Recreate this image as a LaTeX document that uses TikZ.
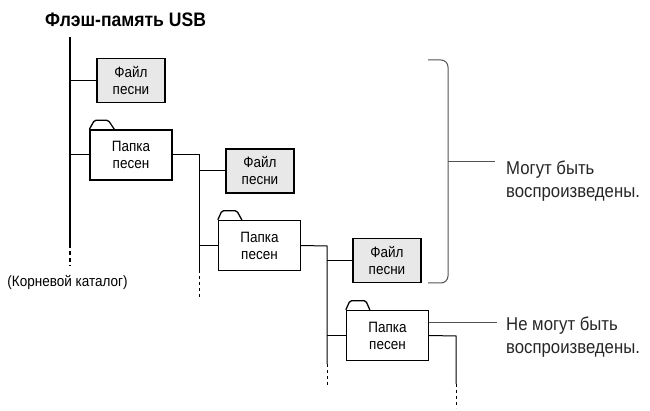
\documentclass[tikz,border=0pt]{standalone}
\usepackage{fontspec}
\setmainfont{Liberation Sans}[FakeStretch=0.9]
\begin{document}
\begin{tikzpicture}[x=1pt,y=-1pt,
  treeline/.style={line width=1pt, black},
  rootline/.style={line width=2.6pt, black},
  dotend/.style={line width=1pt, dash pattern=on 3pt off 3pt},
  rootdots/.style={line width=2.6pt, dash pattern=on 4pt off 3pt},
  filebox/.style={draw, line width=1.3pt, fill=gray!18, minimum width=68pt, minimum height=44pt, inner sep=0pt, align=center, font=\fontsize{15}{17}\selectfont},
  folderbox/.style={draw, line width=1.3pt, fill=white, minimum width=82pt, minimum height=50pt, inner sep=0pt, align=center, font=\fontsize{15}{17}\selectfont},
  foldertab/.style={line width=1.3pt, rounded corners=1.5pt},
  bracket/.style={line width=1pt, gray!65!black, rounded corners=7pt},
  notetext/.style={anchor=west, align=left, text=black!85, font=\fontsize{18.6}{23}\selectfont, inner sep=0pt},
  leader/.style={line width=1pt, gray!65!black}]
\useasboundingbox (0,0) rectangle (650,411);
% title
\node[font=\bfseries\fontsize{19.5}{22}\selectfont, anchor=west, inner sep=0pt] (title) at (45,20) {Флэш-память USB};
% root
\coordinate (roottop) at (70,37);
\coordinate (rootend) at (70,244);
\coordinate (rootdot) at (70,266);
\draw[rootline] (roottop) -- (rootend);
\draw[rootdots] (rootend) -- (rootdot);
\node[font=\fontsize{15}{17}\selectfont, inner sep=0pt] (rootlabel) at (67.5,282) {(Корневой каталог)};
% level 1
\node[filebox] (file1) at (131,80.5) {Файл\\песни};
\node[folderbox] (folder1) at (131,155) {Папка\\песен};
\draw[foldertab] (folder1.north west) -- ++(5,-9) -- ++(14,0) -- ++(6,9);
\draw[treeline] (file1.west) -- (file1.west -| roottop);
\draw[treeline] (folder1.west) -- (folder1.west -| roottop);
% level 2
\coordinate (b1top) at (199,155);
\coordinate (b1end) at (199,270);
\coordinate (b1dot) at (199,297);
\draw[treeline] (folder1.east) -- (b1top) -- (b1end);
\draw[dotend] (b1end) -- (b1dot);
\node[filebox] (file2) at (260,171) {Файл\\песни};
\node[folderbox] (folder2) at (259.5,245.5) {Папка\\песен};
\draw[foldertab] (folder2.north west) -- ++(4,-9) -- ++(15,0) -- ++(5,9);
\draw[treeline] (file2.west) -- (file2.west -| b1top);
\draw[treeline] (folder2.west) -- (folder2.west -| b1top);
% level 3
\coordinate (b2top) at (327,246);
\coordinate (b2end) at (327,364);
\coordinate (b2dot) at (327,388);
\draw[treeline] (folder2.east) -- (b2top) -- (b2end);
\draw[dotend] (b2end) -- (b2dot);
\node[filebox] (file3) at (387,260.5) {Файл\\песни};
\node[folderbox] (folder3) at (387.5,335.5) {Папка\\песен};
\draw[foldertab] (folder3.north west) -- ++(4,-9) -- ++(16,0) -- ++(4,9);
\draw[treeline] (file3.west) -- (file3.west -| b2top);
\draw[treeline] (folder3.west) -- (folder3.west -| b2top);
% level 4
\coordinate (b3top) at (456,336);
\coordinate (b3end) at (456,384);
\coordinate (b3dot) at (456,408);
\draw[treeline] (folder3.east) -- (b3top) -- (b3end);
\draw[dotend] (b3end) -- (b3dot);
% bracket
\coordinate (brtop) at (428,60);
\coordinate (brbot) at (428,283);
\coordinate (brmid) at (448,162);
\coordinate (brtick) at (495,162);
\draw[bracket] (brtop) -- (brtop -| brmid) -- (brbot -| brmid) -- (brbot);
\draw[leader] (brmid) -- (brtick);
\node[notetext] (can) at (506,181) {Могут быть\\воспроизведены.};
% cannot
\coordinate (nctick) at (497,323);
\draw[leader] (folder3.east |- nctick) -- (nctick);
\node[notetext] (cannot) at (506,337) {Не могут быть\\воспроизведены.};
\end{tikzpicture}
\end{document}
